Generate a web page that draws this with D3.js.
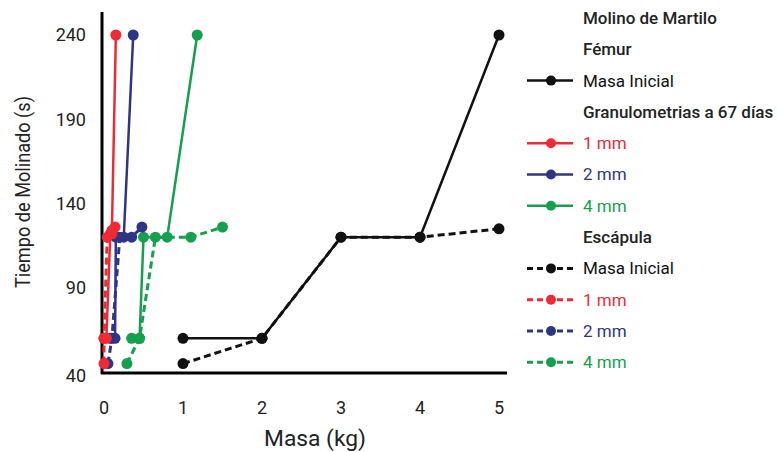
<!DOCTYPE html>
<html>
<head>
<meta charset="utf-8">
<script src="https://cdn.jsdelivr.net/npm/d3@7"></script>
<style>
  body { margin: 0; background: #fff; }
  text { font-family: Roboto, "Liberation Sans", sans-serif; }
</style>
</head>
<body>
<script>
// tick labels
var xTicks = [0, 1, 2, 3, 4, 5]
var yTicks = [40, 90, 140, 190, 240]

// Fémur (solid lines)
var femurInicial = [[1, 60], [2, 60], [3, 120], [4, 120], [5, 240]]
var femur1mm = [[0, 60], [0.03, 60], [0.08, 122], [0.1, 124], [0.15, 240]]
var femur2mm = [[0.08, 60], [0.14, 60], [0.15, 120], [0.25, 120], [0.37, 240]]
var femur4mm = [[0.35, 60], [0.45, 60], [0.5, 120], [0.8, 120], [1.18, 240]]

// Escápula (dashed lines)
var escInicial = [[1, 45], [2, 60], [3, 120], [4, 120], [5, 125]]
var esc1mm = [[0, 45], [0, 60], [0.04, 120], [0.1, 122], [0.14, 126]]
var esc2mm = [[0.05, 45], [0.1, 60], [0.2, 120], [0.35, 120], [0.48, 126]]
var esc4mm = [[0.29, 45], [0.45, 60], [0.65, 120], [1.1, 120], [1.5, 126]]

var colors = {ini: "#111", r: "#ee2a35", b: "#2f3585", g: "#14a04c"}

var series = [
  {data: escInicial, color: colors.ini, dash: true},
  {data: femurInicial, color: colors.ini, dash: false},
  {data: esc4mm, color: colors.g, dash: true},
  {data: femur4mm, color: colors.g, dash: false},
  {data: esc2mm, color: colors.b, dash: true},
  {data: femur2mm, color: colors.b, dash: false},
  {data: esc1mm, color: colors.r, dash: true},
  {data: femur1mm, color: colors.r, dash: false}
]

var legendRows = [
  {label: "Molino de Martilo", head: true},
  {label: "Fémur", head: true},
  {label: "Masa Inicial", color: colors.ini, text: "#111", dash: false},
  {label: "Granulometrias a 67 días", head: true},
  {label: "1 mm", color: colors.r, text: colors.r, dash: false},
  {label: "2 mm", color: colors.b, text: colors.b, dash: false},
  {label: "4 mm", color: colors.g, text: colors.g, dash: false},
  {label: "Escápula", head: true},
  {label: "Masa Inicial", color: colors.ini, text: "#111", dash: true},
  {label: "1 mm", color: colors.r, text: colors.r, dash: true},
  {label: "2 mm", color: colors.b, text: colors.b, dash: true},
  {label: "4 mm", color: colors.g, text: colors.g, dash: true}
]

var svg = d3.select("body").append("svg")
  .attr("width", 778)
  .attr("height", 452)

var x = d3.scaleLinear().domain([0, 5]).range([104, 499])
var y = d3.scaleLinear().domain([40, 240]).range([372, 35])

// axis lines
svg.append("line")
  .attr("x1", 102).attr("x2", 102).attr("y1", 12).attr("y2", 374)
  .attr("stroke", "#000").attr("stroke-width", 3)
svg.append("line")
  .attr("x1", 101).attr("x2", 507).attr("y1", 373).attr("y2", 373)
  .attr("stroke", "#000").attr("stroke-width", 3)

svg.append("g").selectAll("text")
  .data(yTicks)
  .join("text")
    .attr("x", 86)
    .attr("y", d => d == 40 ? y(d) + 4 : y(d))
    .attr("dy", "0.35em")
    .attr("text-anchor", "end")
    .attr("font-size", 18)
    .attr("fill", "#222")
    .text(d => d)

svg.append("g").selectAll("text")
  .data(xTicks)
  .join("text")
    .attr("x", d => x(d))
    .attr("y", 408)
    .attr("dy", "0.35em")
    .attr("text-anchor", "middle")
    .attr("font-size", 18)
    .attr("fill", "#222")
    .text(d => d)

svg.append("text")
  .attr("x", 315).attr("y", 438)
  .attr("dy", "0.35em")
  .attr("text-anchor", "middle")
  .attr("font-size", 22)
  .attr("fill", "#222")
  .attr("textLength", 102)
  .attr("lengthAdjust", "spacingAndGlyphs")
  .text("Masa (kg)")

svg.append("text")
  .attr("transform", "translate(23,192) rotate(-90)")
  .attr("dy", "0.35em")
  .attr("text-anchor", "middle")
  .attr("font-size", 21)
  .attr("fill", "#222")
  .attr("textLength", 192)
  .attr("lengthAdjust", "spacingAndGlyphs")
  .text("Tiempo de Molinado (s)")

var line = d3.line()
  .x(d => x(d[0]))
  .y(d => y(d[1]))

var g = svg.append("g")
series.forEach(function(s) {
  g.append("path")
    .attr("d", line(s.data))
    .attr("fill", "none")
    .attr("stroke", s.color)
    .attr("stroke-width", s.dash ? 3 : 2.5)
    .attr("stroke-dasharray", s.dash ? "7,4" : null)
  g.append("g").selectAll("circle")
    .data(s.data)
    .join("circle")
      .attr("cx", d => x(d[0]))
      .attr("cy", d => y(d[1]))
      .attr("r", 5.5)
      .attr("fill", s.color)
})

// legend
var leg = svg.append("g").selectAll("g")
  .data(legendRows)
  .join("g")
    .attr("transform", (d, i) => `translate(0,${18 + i * 31.3})`)

leg.append("text")
  .attr("x", 583)
  .attr("dy", "0.35em")
  .attr("font-size", 17)
  .attr("font-weight", d => d.head ? 500 : 400)
  .attr("fill", d => d.head ? "#222" : d.text)
  .text(d => d.label)

var sym = leg.filter(d => !d.head)
sym.append("line")
  .attr("x1", 527).attr("x2", 573)
  .attr("stroke", d => d.color)
  .attr("stroke-width", d => d.dash ? 3 : 2.5)
  .attr("stroke-dasharray", d => d.dash ? "6,4" : null)
sym.append("circle")
  .attr("cx", 551)
  .attr("r", 5)
  .attr("fill", d => d.color)
</script>
</body>
</html>
